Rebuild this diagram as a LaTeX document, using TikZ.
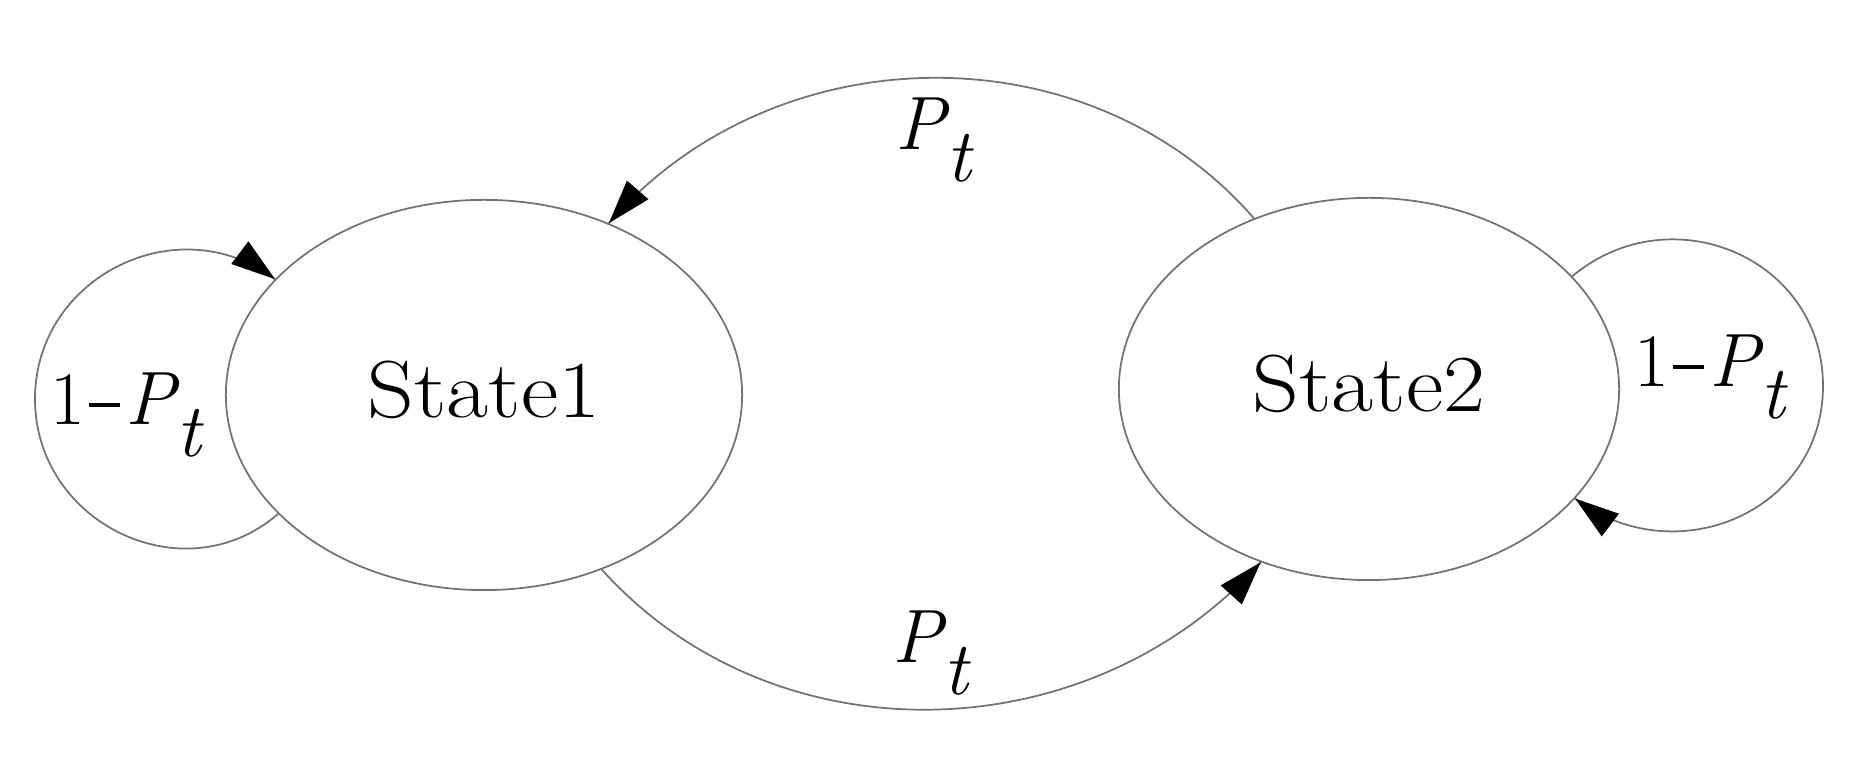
\documentclass[tikz,border=0pt]{standalone}
\usepackage{graphicx}
\usetikzlibrary{shapes.geometric,arrows.meta,decorations.markings}
\newcommand{\Ptx}{\textit{P}\kern-0.05em\raisebox{-0.42em}{\textit{t}}}
\newcommand{\onem}{1\kern0.06em\rule[0.24em]{0.4em}{0.045em}\kern0.08em}
\begin{document}
\begin{tikzpicture}[x=0.01cm,y=0.01cm,
  state/.style={ellipse, draw=black!55, line width=0.5pt, inner sep=0pt, text depth=0.12cm, font=\fontsize{23}{28}\selectfont},
  trans/.style={draw=black!55, line width=0.5pt, postaction={decorate},
    decoration={markings, mark=at position 0.9999 with {\arrow{Triangle[length=0.44cm,width=0.28cm,color=black]}}}},
  lbl/.style={anchor=base, inner sep=0pt, font=\fontsize{21.5}{26}\selectfont}]
\useasboundingbox (0,0) rectangle (1850,768);
\node[state, minimum width=5.16cm, minimum height=3.9cm] (s1) at (484,373) {\scalebox{1.13}[1]{State1}\hspace{0.2cm}};
\node[state, minimum width=5.0cm, minimum height=3.82cm] (s2) at (1369,379) {\scalebox{1.13}[1]{State2}\hspace{0.2cm}};
\coordinate (L1) at (35,369);
\coordinate (R1) at (1823,382);
\draw[trans] (s2.124) to[out=131,in=49,looseness=1.0] (s1.54);
\draw[trans] (s1.304) to[out=-48,in=-132,looseness=1.0] (s2.238);
\draw[trans] (s1.210) to[out=-139,in=-90,looseness=1.185] (L1) to[out=90,in=143,looseness=1.16] (s1.151);
\draw[trans] (s2.29) to[out=40,in=90,looseness=1.2] (R1) to[out=-90,in=-37,looseness=1.18] (s2.332);
\node[lbl] (ptop) at (935,618) {\Ptx};
\node[lbl] (pbot) at (932,105) {\Ptx};
\node[lbl] (pleft) at (127,343) {\onem\Ptx};
\node[lbl] (pright) at (1711,381) {\onem\Ptx};
\end{tikzpicture}
\end{document}
